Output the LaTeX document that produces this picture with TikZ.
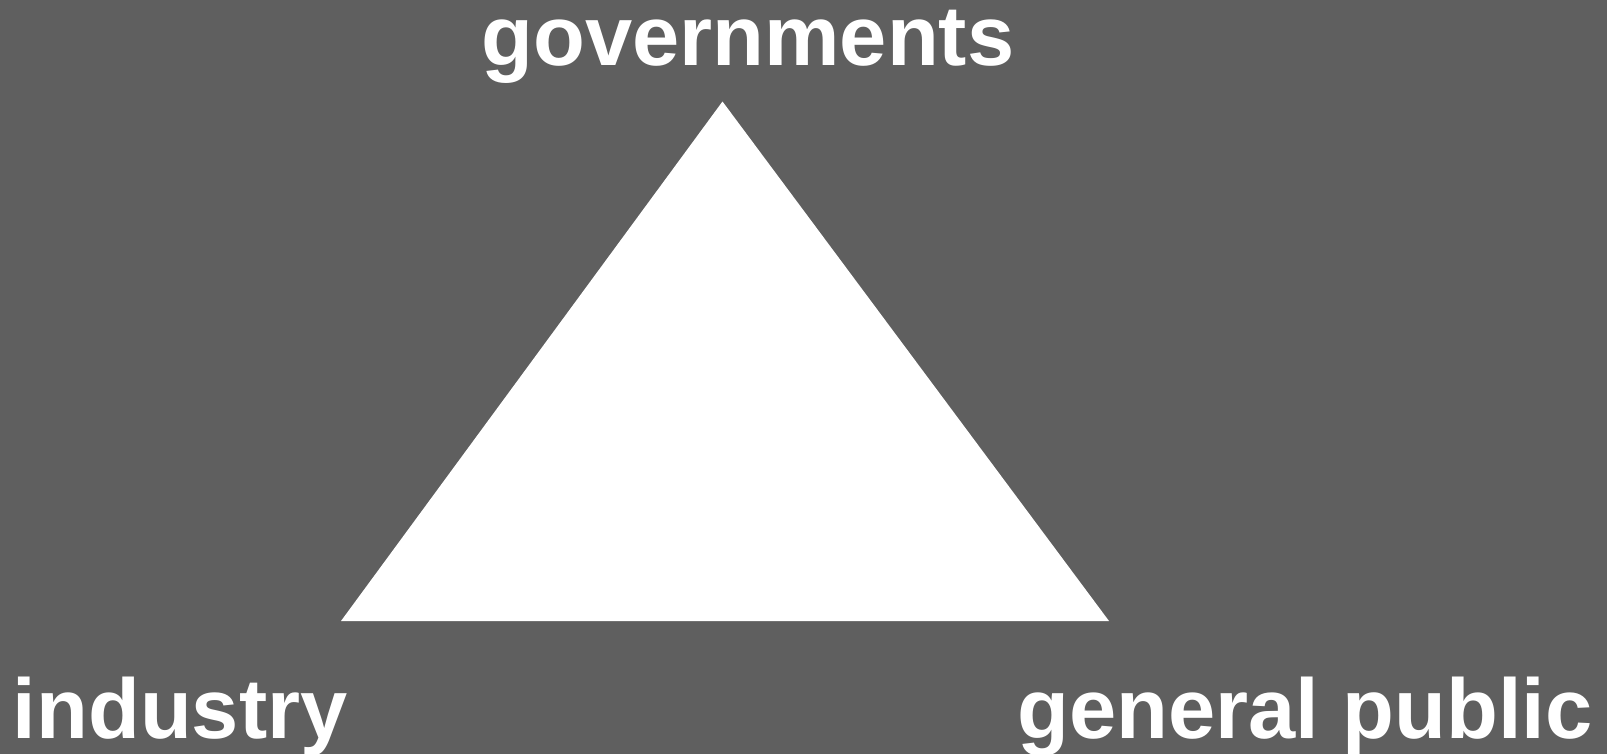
\documentclass[tikz,border=0pt]{standalone}
\usepackage{fontspec}
\setmainfont{Liberation Sans}
\usepackage{tikz}
\usetikzlibrary{positioning}
\definecolor{mybg}{RGB}{95,95,95}
\tikzset{
  label/.style={text=white, font=\fontsize{48.3}{52}\selectfont\bfseries, inner sep=0pt},
  tri/.style={fill=white, draw=none}
}
\begin{document}
\begin{tikzpicture}[x=0.02cm, y=-0.02cm]
  \fill[mybg] (0,0) rectangle (1607,754);
  \useasboundingbox (0,0) rectangle (1607,754);

  % corners of the triangle
  \coordinate (top) at (722.5,101.5);
  \coordinate (left) at (341,621);
  \coordinate (right) at (1109,621);
  \fill[tri] (top) -- (left) -- (right) -- cycle;

  % labels
  \node[label, anchor=base] (gov) at (748,65.5) {governments};
  \node[label, anchor=base west] (ind) at (12.5,738) {industry};
  \node[label, anchor=base east] (pub) at (1593,738) {general public};
\end{tikzpicture}
\end{document}
